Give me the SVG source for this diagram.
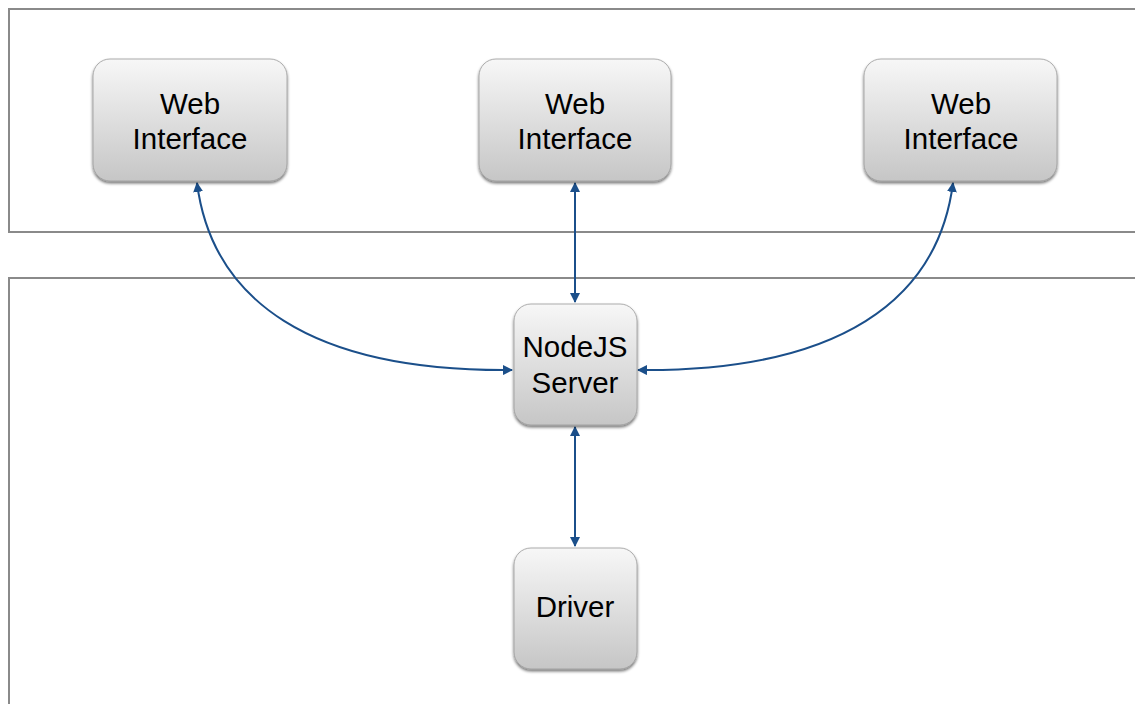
<svg xmlns="http://www.w3.org/2000/svg" width="1135" height="704" viewBox="0 0 1135 704">
  <defs>
    <linearGradient id="boxFill" x1="0" y1="0" x2="0" y2="1">
      <stop offset="0" stop-color="#f7f7f7"/>
      <stop offset="1" stop-color="#c6c6c6"/>
    </linearGradient>
    <filter id="drop" x="-20%" y="-20%" width="140%" height="140%">
      <feGaussianBlur in="SourceAlpha" stdDeviation="1.6"/>
      <feOffset dx="0" dy="2" result="b"/>
      <feComponentTransfer><feFuncA type="linear" slope="0.55"/></feComponentTransfer>
      <feMerge><feMergeNode/><feMergeNode in="SourceGraphic"/></feMerge>
    </filter>
    <marker id="headL" viewBox="0 0 10 10" refX="9" refY="5" markerWidth="10" markerHeight="10" orient="auto-start-reverse" markerUnits="userSpaceOnUse">
      <path d="M0,0 L10,5 L0,10 Z" fill="#1b4f8a"/>
    </marker>
  </defs>
  <style>
    .frame { fill: none; stroke: #8a8a8a; stroke-width: 2; }
    .box { fill: url(#boxFill); stroke: #9a9a9a; stroke-width: 0.8; filter: url(#drop); }
    .label { font-family: "Liberation Sans", Arial, sans-serif; font-size: 29.5px; fill: #000; text-anchor: middle; }
    .link { fill: none; stroke: #1b4f8a; stroke-width: 2; marker-start: url(#headL); marker-end: url(#headL); }
  </style>

  <rect width="1135" height="704" fill="#ffffff"/>

  <!-- layer frames -->
  <g id="frames">
    <path class="frame" d="M1136,9 H9 V232 H1136"/>
    <path class="frame" d="M1136,278 H9 V705"/>
  </g>

  <!-- connectors -->
  <g id="connectors">
    <path class="link" d="M197,183 C212,300 310,372 512,370"/>
    <path class="link" d="M953,183 C938,300 840,372 638,370"/>
    <line class="link" x1="575" y1="183" x2="575" y2="302"/>
    <line class="link" x1="575" y1="427" x2="575" y2="546"/>
  </g>

  <g id="web1">
    <rect class="box" x="93" y="59" width="194" height="122" rx="17"/>
    <text class="label" x="190" y="114">Web</text>
    <text class="label" x="190" y="149">Interface</text>
  </g>
  <g id="web2">
    <rect class="box" x="479" y="59" width="192" height="122" rx="17"/>
    <text class="label" x="575" y="114">Web</text>
    <text class="label" x="575" y="149">Interface</text>
  </g>
  <g id="web3">
    <rect class="box" x="864" y="59" width="193" height="122" rx="17"/>
    <text class="label" x="961" y="114">Web</text>
    <text class="label" x="961" y="149">Interface</text>
  </g>
  <g id="nodejs">
    <rect class="box" x="514" y="304" width="123" height="121" rx="17"/>
    <text class="label" x="575" y="357">NodeJS</text>
    <text class="label" x="575" y="393">Server</text>
  </g>
  <g id="driver">
    <rect class="box" x="514" y="548" width="123" height="121" rx="17"/>
    <text class="label" x="575" y="617">Driver</text>
  </g>
</svg>
